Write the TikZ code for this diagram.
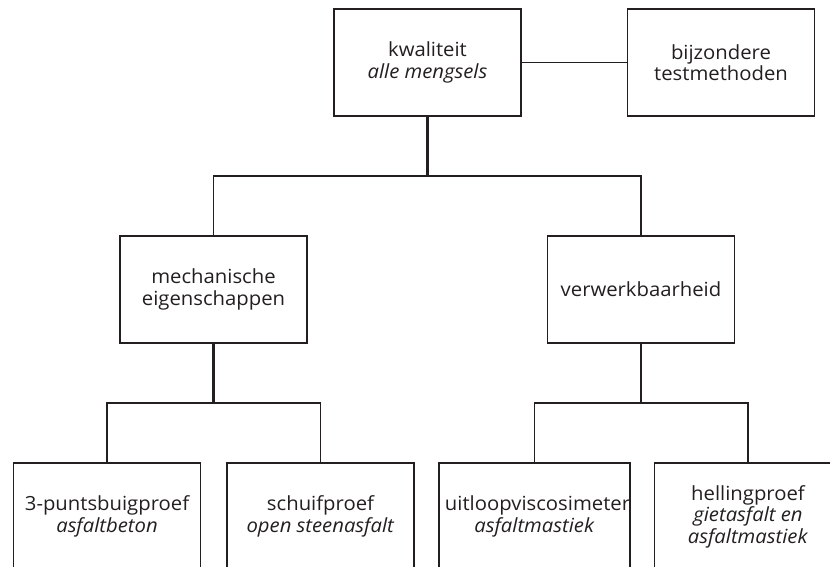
\documentclass[tikz,border=0pt]{standalone}
\usepackage{fontspec}
\setmainfont{Open Sans}[FakeStretch=1.04]
\definecolor{ink}{HTML}{231F20}
\begin{document}
\begin{tikzpicture}[x=1pt,y=-1pt,
  box/.style={draw=ink,line width=1.8pt,rectangle,minimum width=187pt,minimum height=107pt,
    inner sep=0pt,align=center,text=ink,font=\fontsize{19.5}{21.5}\selectfont},
  link/.style={draw=ink,line width=1.7pt},
  stem/.style={draw=ink,line width=2.4pt}]
\useasboundingbox (0,0) rectangle (830,566);
\clip (0,0) rectangle (830,566);
\node[box] (k) at (427.5,62.5) {kwaliteit\\\textit{alle mengsels}};
\node[box] (b) at (721,62.5) {bijzondere\\testmethoden};
\node[box] (m) at (213.5,289.5) {mechanische\\eigenschappen};
\node[box] (v) at (641,289.5) {verwerkbaarheid};
\node[box] (b1) at (107,516.5) {3-puntsbuigproef\\\textit{asfaltbeton}};
\node[box] (b2) at (320.5,516.5) {schuifproef\\\textit{open steenasfalt}};
\node[box] (b3) at (534.5,516.5) {\hspace*{6pt}uitloopviscosimeter\\\textit{asfaltmastiek}};
\node[box] (b4) at (748,516.5) {hellingproef\\\textit{gietasfalt en}\\\textit{asfaltmastiek}};
\coordinate (bus1) at (0,176);
\coordinate (bus2) at (0,403);
\draw[link] (k.east) -- (b.west);
\draw[stem] (k.south) -- (k.south |- bus1);
\draw[link] (m.north) -- (m.north |- bus1) -- (v.north |- bus1) -- (v.north);
\draw[stem] (m.south) -- (m.south |- bus2);
\draw[link] (b1.north) -- (b1.north |- bus2) -- (b2.north |- bus2) -- (b2.north);
\draw[stem] (v.south) -- (v.south |- bus2);
\draw[link] (b3.north) -- (b3.north |- bus2) -- (b4.north |- bus2) -- (b4.north);
\end{tikzpicture}
\end{document}
